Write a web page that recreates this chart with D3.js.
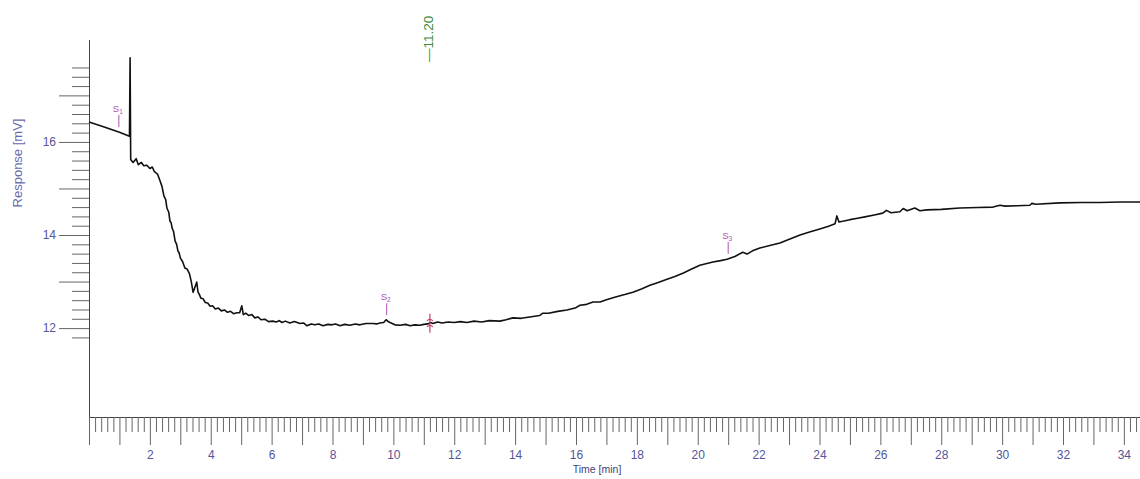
<!DOCTYPE html>
<html>
<head>
<meta charset="utf-8">
<script src="https://cdn.jsdelivr.net/npm/d3@7"></script>
<style>
  html, body { margin: 0; padding: 0; background: #fff; }
  svg { display: block; }
</style>
</head>
<body>
<svg id="chart" width="1140" height="479"></svg>
<script>
// ---- data ----
const times = [
  0.00, 0.50, 1.00, 1.33, 1.35, 1.37, 1.45, 1.55, 1.62, 1.72, 1.80, 1.90, 2.00, 2.08, 2.15, 2.25,
  2.33, 2.40, 2.46, 2.52, 2.56, 2.62, 2.66, 2.70, 2.73, 2.78, 2.83, 2.88, 2.92, 2.96, 3.00, 3.08,
  3.15, 3.22, 3.30, 3.36, 3.42, 3.48, 3.54, 3.58, 3.62, 3.68, 3.75, 3.82, 3.90, 3.98, 4.06, 4.15,
  4.25, 4.35, 4.45, 4.55, 4.65, 4.75, 4.86, 4.95, 5.02, 5.07, 5.15, 5.25, 5.35, 5.45, 5.55, 5.65,
  5.78, 5.90, 6.04, 6.15, 6.25, 6.34, 6.45, 6.60, 6.75, 6.93, 7.05, 7.16, 7.30, 7.42, 7.55, 7.69,
  7.85, 7.98, 8.10, 8.25, 8.40, 8.57, 8.75, 8.90, 9.10, 9.33, 9.45, 9.56, 9.68, 9.76, 9.83, 9.89,
  10.05, 10.22, 10.40, 10.55, 10.70, 10.87, 11.00, 11.14, 11.22, 11.30, 11.45, 11.60, 11.80, 12.00,
  12.20, 12.42, 12.65, 12.90, 13.15, 13.50, 13.70, 13.93, 14.20, 14.59, 14.80, 14.91, 15.10, 15.40,
  15.70, 15.97, 16.13, 16.35, 16.56, 16.79, 17.00, 17.30, 17.60, 17.87, 18.15, 18.43, 18.70, 18.99,
  19.25, 19.51, 19.80, 20.07, 20.20, 20.50, 20.75, 20.96, 21.22, 21.48, 21.62, 21.80, 22.04, 22.40,
  22.70, 23.05, 23.36, 23.70, 24.01, 24.30, 24.51, 24.57, 24.64, 24.80, 25.00, 25.25, 25.49, 25.80,
  26.08, 26.20, 26.35, 26.64, 26.75, 26.88, 27.13, 27.30, 27.53, 28.00, 28.61, 29.20, 29.70, 29.93,
  30.10, 30.50, 30.91, 30.98, 31.10, 31.90, 32.60, 33.21, 33.90, 34.53
];
const response = [
  16.43, 16.32, 16.21, 16.12, 17.81, 15.62, 15.56, 15.64, 15.51, 15.56, 15.49, 15.50, 15.43, 15.46, 15.36, 15.31,
  15.17, 15.04, 14.84, 14.76, 14.58, 14.49, 14.30, 14.26, 14.15, 14.07, 13.87, 13.80, 13.66, 13.62, 13.51, 13.42,
  13.29, 13.27, 13.17, 13.00, 12.77, 12.88, 12.99, 12.78, 12.73, 12.64, 12.63, 12.55, 12.54, 12.47, 12.48, 12.41,
  12.43, 12.37, 12.39, 12.34, 12.36, 12.31, 12.33, 12.33, 12.48, 12.29, 12.32, 12.27, 12.29, 12.22, 12.24, 12.18,
  12.19, 12.14, 12.15, 12.13, 12.16, 12.12, 12.15, 12.11, 12.14, 12.10, 12.11, 12.05, 12.09, 12.07, 12.09, 12.05,
  12.08, 12.07, 12.09, 12.05, 12.08, 12.06, 12.09, 12.07, 12.10, 12.10, 12.09, 12.11, 12.12, 12.18, 12.14, 12.12,
  12.07, 12.06, 12.08, 12.05, 12.07, 12.06, 12.08, 12.09, 12.12, 12.10, 12.13, 12.11, 12.13, 12.12,
  12.14, 12.12, 12.15, 12.13, 12.16, 12.15, 12.18, 12.22, 12.21, 12.25, 12.27, 12.32, 12.32, 12.36,
  12.39, 12.43, 12.49, 12.51, 12.56, 12.56, 12.61, 12.67, 12.72, 12.77, 12.84, 12.92, 12.98, 13.05,
  13.11, 13.18, 13.27, 13.35, 13.37, 13.42, 13.45, 13.48, 13.54, 13.63, 13.59, 13.66, 13.72, 13.78,
  13.83, 13.92, 14.00, 14.07, 14.13, 14.19, 14.24, 14.41, 14.28, 14.30, 14.33, 14.36, 14.39, 14.43,
  14.47, 14.53, 14.48, 14.50, 14.57, 14.52, 14.58, 14.52, 14.54, 14.55, 14.58, 14.59, 14.60, 14.64,
  14.62, 14.63, 14.64, 14.68, 14.66, 14.69, 14.70, 14.70, 14.71, 14.71
];

// peak / segment labels (time in min, label text, subscript)
const segTimes = [0.98, 9.78, 21.0];
const segLabels = ["S", "S", "S"];
const segSubs = ["1", "2", "3"];

// event marker (red) and retention-time annotation (green)
const eventTimes = [11.2];
const rtTimes = [11.20];
const rtLabels = ["11.20"];

// axis definitions
const xDomain = [0, 34.53];
const yDomain = [10.09, 18.19];
const xTickLabels = [2, 4, 6, 8, 10, 12, 14, 16, 18, 20, 22, 24, 26, 28, 30, 32, 34];
const yTickLabels = [12, 14, 16];
const xTitle = "Time [min]";
const yTitle = "Response [mV]";

// ---- drawing ----
const W = 1140, H = 479;
const margin = { left: 89, right: 0, top: 40, bottom: 62 };
const svg = d3.select("#chart");
const font = "Liberation Sans, Arial, sans-serif";
const labelColor = "#55559a";

const x = d3.scaleLinear().domain(xDomain).range([margin.left, W - margin.right]);
const y = d3.scaleLinear().domain(yDomain).range([H - margin.bottom, margin.top]);

const data = times.map((t, i) => ({ t, v: response[i] }));

const xMinor = d3.range(0, 34.5 + 1e-9, 0.2).map(v => +v.toFixed(1));
const yMinor = d3.range(11.8, 17.6 + 1e-9, 0.2).map(v => +v.toFixed(1));

// X axis
const xAxisG = svg.append("g").attr("transform", `translate(0,${y(yDomain[0])})`);
const isInt = v => Math.abs(v - Math.round(v)) < 1e-6;
xAxisG.call(
  d3.axisBottom(x).tickValues(xMinor).tickSizeOuter(0)
    .tickFormat(d => (isInt(d) && xTickLabels.includes(Math.round(d))) ? String(Math.round(d)) : "")
);
xAxisG.select(".domain").attr("stroke", "#444").attr("stroke-width", 1).attr("d", `M${x(0)},0.5H${W}`);
xAxisG.selectAll(".tick line")
  .attr("stroke", "#666")
  .attr("y2", d => isInt(d) ? 28 : 15);
xAxisG.selectAll(".tick text")
  .attr("y", 33)
  .attr("font-family", font)
  .attr("font-size", 12)
  .attr("fill", labelColor);

// Y axis
const yAxisG = svg.append("g").attr("transform", `translate(${x(0)},0)`);
yAxisG.call(
  d3.axisLeft(y).tickValues(yMinor).tickSizeOuter(0)
    .tickFormat(d => (isInt(d) && yTickLabels.includes(Math.round(d))) ? String(Math.round(d)) : "")
);
yAxisG.select(".domain").attr("stroke", "#444").attr("stroke-width", 1)
  .attr("d", `M0.5,${y(yDomain[0])}V${y(yDomain[1])}`);
yAxisG.selectAll(".tick line")
  .attr("stroke", "#666")
  .attr("x2", d => isInt(d) ? -30 : -17);
yAxisG.selectAll(".tick text")
  .attr("x", -33)
  .attr("font-family", font)
  .attr("font-size", 12)
  .attr("fill", labelColor);

// axis titles
svg.append("text")
  .attr("x", 597).attr("y", 473)
  .attr("text-anchor", "middle")
  .attr("font-family", font).attr("font-size", 10.5)
  .attr("fill", "#3f3f7a")
  .text(xTitle);
svg.append("text")
  .attr("transform", `translate(22,${163}) rotate(-90)`)
  .attr("text-anchor", "middle")
  .attr("font-family", font).attr("font-size", 13)
  .attr("fill", "#6a6aae")
  .text(yTitle);

// chromatogram trace
svg.append("path")
  .datum(data)
  .attr("fill", "none")
  .attr("stroke", "#111")
  .attr("stroke-width", 1.6)
  .attr("stroke-linejoin", "round")
  .attr("d", d3.line().x(d => x(d.t)).y(d => y(d.v)));

// segment labels (magenta)
const bis = d3.bisector(d => d.t).left;
function valueAt(t) {
  const i = Math.max(1, Math.min(data.length - 1, bis(data, t)));
  const a = data[i - 1], b = data[i];
  const k = (t - a.t) / (b.t - a.t);
  return a.v + k * (b.v - a.v);
}
segTimes.forEach((t, i) => {
  const px = x(t);
  const py = y(valueAt(t));
  const g = svg.append("g").attr("fill", "#b050b0").attr("stroke", "#b050b0");
  g.append("line").attr("x1", px).attr("x2", px).attr("y1", py - 5).attr("y2", py - 17).attr("stroke-width", 1);
  const txt = g.append("text")
    .attr("x", px - 1).attr("y", py - 20)
    .attr("text-anchor", "middle")
    .attr("stroke", "none")
    .attr("font-family", font).attr("font-size", 9.5);
  txt.append("tspan").text(segLabels[i]);
  txt.append("tspan").attr("font-size", 6.5).attr("dy", 2).text(segSubs[i]);
});

// red event marker
eventTimes.forEach(t => {
  const px = x(t);
  const py = y(valueAt(t));
  const g = svg.append("g").attr("stroke", "#c8406a").attr("fill", "none").attr("stroke-width", 1.2);
  g.append("line").attr("x1", px).attr("x2", px).attr("y1", py - 9).attr("y2", py + 10);
  g.append("path").attr("d", `M${px - 3},${py + 4}Q${px},${py + 1} ${px + 3},${py + 4}`);
  g.append("path").attr("d", `M${px - 3},${py - 2}Q${px},${py - 5} ${px + 3},${py - 2}`);
});

// green retention-time annotation (rotated)
rtTimes.forEach((t, i) => {
  svg.append("text")
    .attr("transform", `translate(${x(t) + 3},62) rotate(-90)`)
    .attr("text-anchor", "start")
    .attr("font-family", font).attr("font-size", 13.5)
    .attr("fill", "#3c8c3c")
    .text("\u2014" + rtLabels[i]);
});
</script>
</body>
</html>
